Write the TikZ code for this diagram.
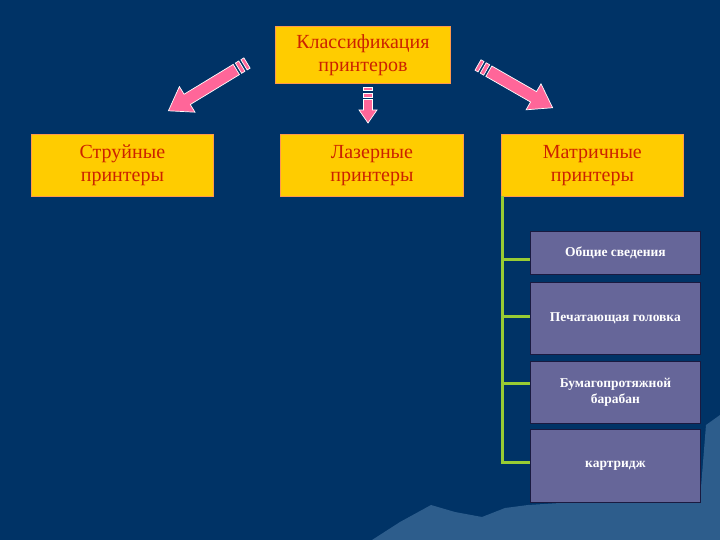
\documentclass[tikz,border=0pt]{standalone}
\usepackage{fontspec}
\setmainfont{Liberation Serif}
\begin{document}
\begin{tikzpicture}[x=1pt,y=-1pt,
  ybox/.style={draw=orange!60!pink, line width=0.8pt, fill=boxyellow, text=boxred,
    font=\fontsize{20}{23}\selectfont, align=center, inner sep=0pt, anchor=north west},
  pbox/.style={draw=pborder, line width=0.8pt, fill=boxpurple, text=white,
    font=\fontsize{13.5}{16}\selectfont\bfseries, align=center, inner sep=0pt, anchor=north west},
  conn/.style={draw=lime, line width=3pt},
  parr/.style={fill=arrowpink, draw=white, line width=0.7pt, line join=miter}
]
\definecolor{bg}{HTML}{003366}
\definecolor{mount}{HTML}{2D5D8C}
\definecolor{boxyellow}{HTML}{FFCC00}
\definecolor{boxred}{HTML}{CC2200}
\definecolor{boxpurple}{HTML}{666699}
\definecolor{pborder}{HTML}{1A1A40}
\definecolor{arrowpink}{HTML}{FF6699}
\definecolor{lime}{HTML}{99CC33}

\fill[bg] (0,0) rectangle (720,540);
\useasboundingbox (0,0) rectangle (720,540);
% mountain
\fill[mount] (372,540) -- (400,522) -- (431,505) -- (455,512) -- (482,517) -- (505,508) -- (528,505) -- (560,503) -- (620,502) -- (700,500) -- (706,425) -- (720,415) -- (720,540) -- cycle;

% top node
\node[ybox, minimum width=175pt, minimum height=57pt] (top) at (275,26) {Классификация\\принтеров};
% second row
\node[ybox, minimum width=182pt, minimum height=62pt] (jet) at (31,134) {Струйные\\принтеры};
\node[ybox, minimum width=183pt, minimum height=62pt] (laser) at (280,134) {Лазерные\\принтеры};
\node[ybox, minimum width=182pt, minimum height=62pt] (matrix) at (501,134) {Матричные\\принтеры};

% purple boxes
\node[pbox, minimum width=170pt, minimum height=43pt] (p1) at (530,231) {Общие сведения};
\node[pbox, minimum width=170pt, minimum height=72pt] (p2) at (530,282) {Печатающая головка};
\node[pbox, minimum width=170pt, minimum height=62pt] (p3) at (530,361) {Бумагопротяжной\\барабан};
\node[pbox, minimum width=170pt, minimum height=73pt] (p4) at (530,429) {картридж};

% green connectors
\coordinate (g0) at (502,196);
\draw[conn] (g0) -- (502,462) -- (p4.west |- 0,462);
\draw[conn] (502,259) -- (p1.west |- 0,259);
\draw[conn] (502,316) -- (p2.west |- 0,316);
\draw[conn] (502,383) -- (p3.west |- 0,383);

% pink arrows: local along +u; L length, sw half shaft, hw half head, hl head length
\newcommand{\pinkarrow}[6]{%
  \begin{scope}[shift={(#1)}, rotate=#2]
    \path[parr] (0,-#4) rectangle (3.5,#4);
    \path[parr] (6,-#4) rectangle (10,#4);
    \path[parr] (12.5,-#4) -- (#3-#6,-#4) -- (#3-#6,-#5) -- (#3,0) -- (#3-#6,#5) -- (#3-#6,#4) -- (12.5,#4) -- cycle;
  \end{scope}}
\coordinate (al) at (247,63);
\coordinate (ar) at (478,65);
\coordinate (ad) at (368,87);
\pinkarrow{al}{211.3}{92}{6}{15}{22}
\pinkarrow{ar}{-29.8}{86}{6}{15}{22}
\pinkarrow{ad}{-90}{36}{4.5}{9}{13}
\end{tikzpicture}
\end{document}
